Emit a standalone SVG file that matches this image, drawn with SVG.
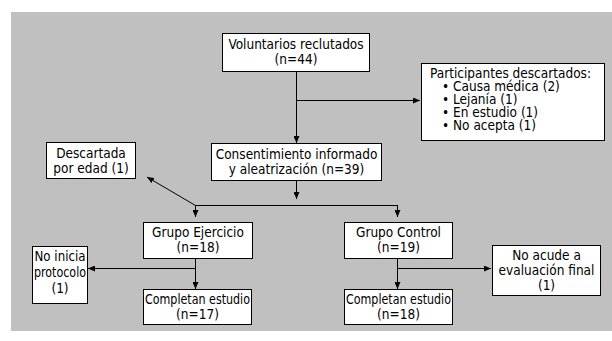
<svg xmlns="http://www.w3.org/2000/svg" width="612" height="341" viewBox="0 0 612 341">
<defs>
<marker id="ah" markerUnits="userSpaceOnUse" markerWidth="7" markerHeight="6" refX="7" refY="3" orient="auto"><path d="M0,0 L7,3 L0,6 z" fill="#000"/></marker>
<style>
.box{fill:#fff;stroke:#000;stroke-width:1}
.t{font-family:"DejaVu Sans Condensed","DejaVu Sans",sans-serif;font-stretch:condensed;font-size:13.5px;fill:#000}
.c{text-anchor:middle}
.ln{stroke:#000;stroke-width:1;fill:none}
.ar{marker-end:url(#ah)}
</style>
</defs>
<rect x="11" y="12" width="601" height="319" fill="#c0c0c0"/>
<g id="connectors">
<line class="ln ar" x1="296.5" y1="71" x2="296.5" y2="143"/>
<line class="ln ar" x1="296.5" y1="100.5" x2="420" y2="100.5"/>
<line class="ln ar" x1="296.5" y1="180" x2="296.5" y2="199"/>
<polyline class="ln" points="195.5,205.5 397.5,205.5"/>
<line class="ln ar" x1="195.5" y1="205" x2="195.5" y2="217"/>
<line class="ln ar" x1="397.5" y1="205" x2="397.5" y2="217"/>
<line class="ln ar" x1="195.5" y1="205.5" x2="147" y2="177"/>
<line class="ln ar" x1="195.5" y1="258" x2="195.5" y2="289"/>
<line class="ln ar" x1="195.5" y1="268.5" x2="88" y2="268.5"/>
<line class="ln ar" x1="397.5" y1="258" x2="397.5" y2="289"/>
<line class="ln ar" x1="397.5" y1="268.5" x2="491" y2="268.5"/>
</g>
<g id="voluntarios">
<rect class="box" x="222.5" y="33.5" width="147" height="38"/>
<text class="t c" x="296" y="49">Voluntarios reclutados</text>
<text class="t c" x="296" y="64">(n=44)</text>
</g>
<g id="descartados">
<rect class="box" x="421.5" y="63.5" width="183" height="77"/>
<text class="t" x="430" y="78">Participantes descartados:</text>
<text class="t" x="442" y="91">• Causa médica (2)</text>
<text class="t" x="442" y="104">• Lejanía (1)</text>
<text class="t" x="442" y="117">• En estudio (1)</text>
<text class="t" x="442" y="130">• No acepta (1)</text>
</g>
<g id="consentimiento">
<rect class="box" x="211.5" y="143.5" width="170" height="37"/>
<text class="t c" x="296.5" y="159">Consentimiento informado</text>
<text class="t c" x="296.5" y="174">y aleatrización (n=39)</text>
</g>
<g id="edad">
<rect class="box" x="46.5" y="142.5" width="89" height="36"/>
<text class="t c" x="91" y="158">Descartada</text>
<text class="t c" x="91" y="173">por edad (1)</text>
</g>
<g id="ejercicio">
<rect class="box" x="143.5" y="222.5" width="109" height="36"/>
<text class="t c" x="198" y="237">Grupo Ejercicio</text>
<text class="t c" x="198" y="252">(n=18)</text>
</g>
<g id="control">
<rect class="box" x="344.5" y="222.5" width="108" height="36"/>
<text class="t c" x="398.5" y="237">Grupo Control</text>
<text class="t c" x="398.5" y="252">(n=19)</text>
</g>
<g id="noinicia">
<rect class="box" x="32.5" y="246.5" width="55" height="57"/>
<text class="t c" x="60" y="261" textLength="51" lengthAdjust="spacingAndGlyphs">No inicia</text>
<text class="t c" x="60" y="277" textLength="52" lengthAdjust="spacingAndGlyphs">protocolo</text>
<text class="t c" x="60" y="293">(1)</text>
</g>
<g id="noacude">
<rect class="box" x="492.5" y="245.5" width="108" height="50"/>
<text class="t c" x="546.5" y="260">No acude a</text>
<text class="t c" x="546.5" y="275">evaluación final</text>
<text class="t c" x="546.5" y="290">(1)</text>
</g>
<g id="completan-e">
<rect class="box" x="143.5" y="289.5" width="108" height="35"/>
<text class="t c" x="197.5" y="304" textLength="105" lengthAdjust="spacingAndGlyphs">Completan estudio</text>
<text class="t c" x="197.5" y="319">(n=17)</text>
</g>
<g id="completan-c">
<rect class="box" x="344.5" y="289.5" width="108" height="35"/>
<text class="t c" x="398.5" y="304" textLength="105" lengthAdjust="spacingAndGlyphs">Completan estudio</text>
<text class="t c" x="398.5" y="319">(n=18)</text>
</g>
</svg>
